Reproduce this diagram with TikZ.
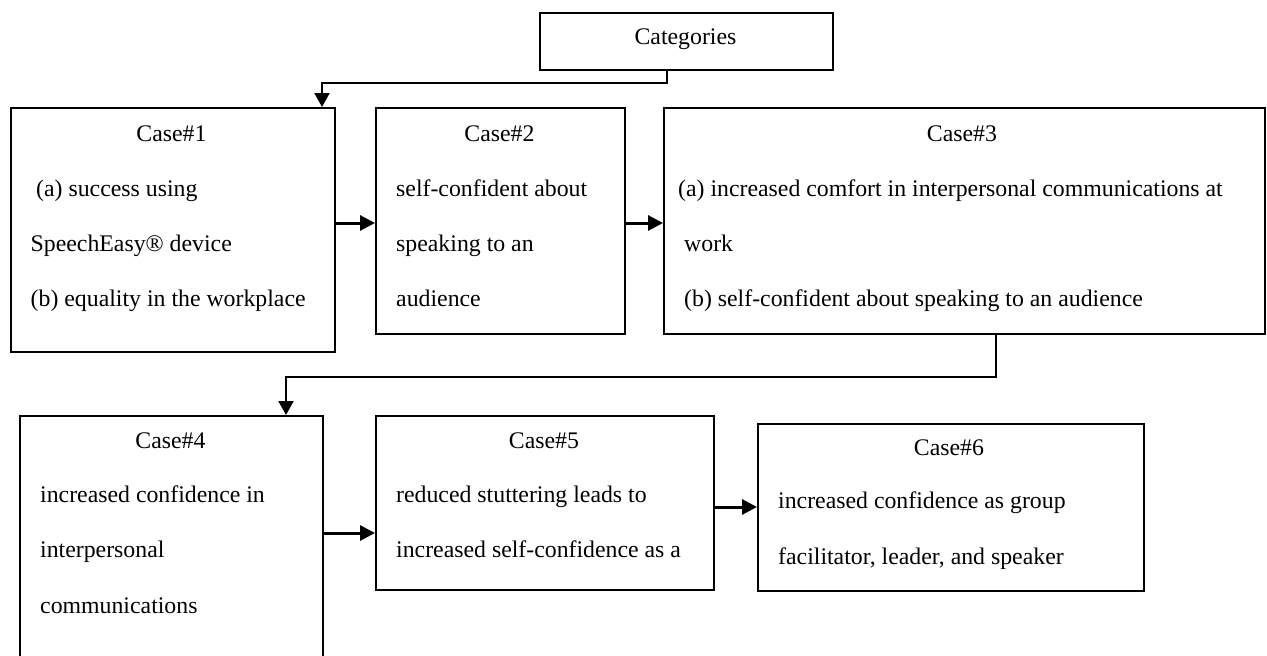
\documentclass[tikz,border=0pt]{standalone}
\usepackage{fontspec}
\setmainfont{Liberation Serif}
\usetikzlibrary{arrows.meta}
\begin{document}
\begin{tikzpicture}[x=1pt, y=-1pt,
  box/.style={draw=black, line width=1.8pt, anchor=north west, inner sep=0pt},
  txt/.style={anchor=base west, inner sep=0pt, font=\fontsize{23.8}{28}\selectfont},
  ttl/.style={anchor=base, inner sep=0pt, font=\fontsize{23.8}{28}\selectfont},
  arr/.style={line width=3pt, -{Triangle[length=15pt, width=15pt]}},
  elbow/.style={line width=2pt, -{Triangle[length=14pt, width=15pt]}}]
\useasboundingbox (0,0) rectangle (1267,656);
\clip (0,0) rectangle (1267,656);

% boxes
\node[box, minimum width=293pt, minimum height=57pt]  (cat) at (539,12)  {};
\node[box, minimum width=324pt, minimum height=244pt] (c1)  at (10,107)  {};
\node[box, minimum width=249pt, minimum height=226pt] (c2)  at (375,107) {};
\node[box, minimum width=601pt, minimum height=226pt] (c3)  at (663,107) {};
\node[box, minimum width=303pt, minimum height=300pt] (c4)  at (19,415)  {};
\node[box, minimum width=338pt, minimum height=174pt] (c5)  at (375,415) {};
\node[box, minimum width=386pt, minimum height=167pt] (c6)  at (757,423) {};

% texts
\node[ttl] (tcat) at (685.5,44) {Categories};

\node[ttl] (t1) at (171.5,141.5) {Case\#1};
\node[txt] (t1a) at (36,196) {(a) success using};
\node[txt] (t1b) at (30.5,251.5) {SpeechEasy® device};
\node[txt] (t1c) at (30.5,306.5) {(b) equality in the workplace};

\node[ttl] (t2) at (499.5,141.5) {Case\#2};
\node[txt] (t2a) at (396,196) {self-confident about};
\node[txt] (t2b) at (396,251.5) {speaking to an};
\node[txt] (t2c) at (396,306.5) {audience};

\node[ttl] (t3) at (962,141.5) {Case\#3};
\node[txt] (t3a) at (678,196) {(a) increased comfort in interpersonal communications at};
\node[txt] (t3b) at (684,251.5) {work};
\node[txt] (t3c) at (684,306.5) {(b) self-confident about speaking to an audience};

\node[ttl] (t4) at (170.5,448.5) {Case\#4};
\node[txt] (t4a) at (40,502.5) {increased confidence in};
\node[txt] (t4b) at (40,557) {interpersonal};
\node[txt] (t4c) at (40,613) {communications};

\node[ttl] (t5) at (544,448.5) {Case\#5};
\node[txt] (t5a) at (396,502.5) {reduced stuttering leads to};
\node[txt] (t5b) at (396,557) {increased self-confidence as a};

\node[ttl] (t6) at (949,455) {Case\#6};
\node[txt] (t6a) at (778,508.5) {increased confidence as group};
\node[txt] (t6b) at (778,564.5) {facilitator, leader, and speaker};

% connectors
\draw[elbow] (cat.south -| 667,0) -- (667,83) -| (c1.north -| 322,0);
\draw[arr] (c1.east |- 0,223) -- (c2.west |- 0,223);
\draw[arr] (c2.east |- 0,223) -- (c3.west |- 0,223);
\draw[elbow] (c3.south -| 996,0) -- (996,377) -| (c4.north -| 286,0);
\draw[arr] (c4.east |- 0,533) -- (c5.west |- 0,533);
\draw[arr] (c5.east |- 0,507) -- (c6.west |- 0,507);
\end{tikzpicture}
\end{document}
